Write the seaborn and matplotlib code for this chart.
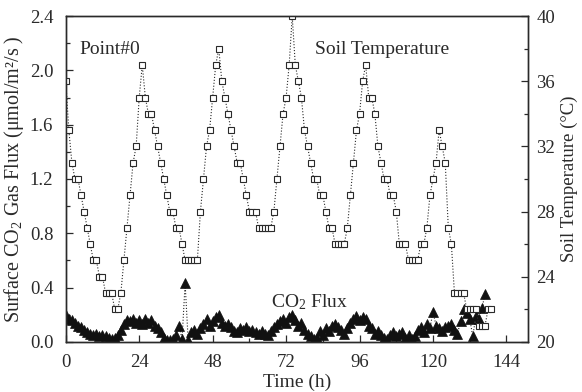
import numpy as np
import pandas as pd
import matplotlib
matplotlib.use("Agg")
import matplotlib.pyplot as plt
import seaborn as sns
from matplotlib.ticker import MultipleLocator

# ---- data ----
temp_hours = list(range(0, 140))
temp_values = [
    36, 33, 31, 30, 30, 29, 28, 27, 26, 25,
    25, 24, 24, 23, 23, 23, 22, 22, 23, 25,
    27, 29, 31, 32, 35, 37, 35, 34, 34, 33,
    32, 31, 30, 29, 28, 28, 27, 27, 26, 25,
    25, 25, 25, 25, 28, 30, 32, 33, 35, 37,
    38, 36, 35, 34, 33, 32, 31, 31, 30, 29,
    28, 28, 28, 27, 27, 27, 27, 27, 28, 30,
    32, 34, 35, 37, 40, 37, 36, 35, 33, 32,
    31, 30, 30, 29, 29, 28, 27, 27, 26, 26,
    26, 26, 27, 29, 31, 33, 34, 36, 37, 35,
    35, 34, 32, 31, 30, 30, 29, 29, 28, 26,
    26, 26, 25, 25, 25, 25, 26, 26, 27, 29,
    30, 31, 33, 32, 31, 27, 26, 23, 23, 23,
    23, 22, 22, 22, 22, 21, 21, 21, 22, 22,
]

flux_hours = list(range(0, 138))
flux_values = [
    0.20, 0.17, 0.16, 0.14, 0.12, 0.11, 0.09, 0.07, 0.06, 0.05,
    0.06, 0.04, 0.05, 0.04, 0.03, 0.02, 0.03, 0.05, 0.09, 0.13,
    0.16, 0.15, 0.17, 0.14, 0.16, 0.13, 0.17, 0.14, 0.16, 0.12,
    0.10, 0.07, 0.03, 0.01, 0.01, 0.02, 0.05, 0.12, 0.02, 0.43,
    0.01, 0.07, 0.09, 0.06, 0.10, 0.13, 0.17, 0.12, 0.15, 0.18,
    0.20, 0.14, 0.12, 0.13, 0.11, 0.08, 0.07, 0.10, 0.09, 0.11,
    0.08, 0.09, 0.07, 0.06, 0.08, 0.06, 0.05, 0.08, 0.11, 0.13,
    0.15, 0.17, 0.14, 0.18, 0.20, 0.16, 0.12, 0.14, 0.09, 0.06,
    0.04, 0.02, 0.03, 0.08, 0.05, 0.10, 0.08, 0.12, 0.13, 0.11,
    0.09, 0.06, 0.10, 0.14, 0.17, 0.19, 0.16, 0.18, 0.17, 0.12,
    0.10, 0.06, 0.08, 0.05, 0.03, 0.02, 0.05, 0.07, 0.04, 0.06,
    0.07, 0.03, 0.05, 0.02, 0.04, 0.09, 0.11, 0.07, 0.13, 0.10,
    0.22, 0.12, 0.10, 0.08, 0.11, 0.12, 0.13, 0.09, 0.06, 0.15,
    0.24, 0.21, 0.17, 0.04, 0.19, 0.17, 0.25, 0.35,
]

x_ticks = [0, 24, 48, 72, 96, 120, 144]
left_ticks = [0.0, 0.4, 0.8, 1.2, 1.6, 2.0, 2.4]
right_ticks = [20, 24, 28, 32, 36, 40]

temp_df = pd.DataFrame({"Time": temp_hours, "Temp": temp_values})
flux_df = pd.DataFrame({"Time": flux_hours, "Flux": flux_values})

# ---- style ----
sns.set_theme(style="ticks")
plt.rcParams["font.family"] = ["Liberation Serif", "DejaVu Serif"]
plt.rcParams["mathtext.fontset"] = "custom"
plt.rcParams["mathtext.rm"] = "Liberation Serif"
plt.rcParams["mathtext.it"] = "Liberation Serif:italic"
plt.rcParams["xtick.direction"] = "in"
plt.rcParams["ytick.direction"] = "in"

fig = plt.figure(figsize=(5.82, 3.92), dpi=100)
ax = fig.add_axes([0.113, 0.128, 0.794, 0.831])
ax2 = ax.twinx()

ink = "#2a2a2a"

sns.lineplot(data=flux_df, x="Time", y="Flux", ax=ax, color=ink,
             linestyle=":", linewidth=0.8, marker="^", markersize=6.5,
             markerfacecolor="#111111", markeredgecolor="#111111", markeredgewidth=0.5,
             estimator=None, sort=False)

sns.lineplot(data=temp_df, x="Time", y="Temp", ax=ax2, color=ink,
             linestyle=":", linewidth=0.8, marker="s", markersize=4.2,
             markerfacecolor="white", markeredgecolor=ink, markeredgewidth=0.8,
             estimator=None, sort=False)

ax.set_xlim(0, 151)
ax.set_ylim(0, 2.4)
ax2.set_ylim(20, 40)

ax.set_xticks(x_ticks)
ax.set_xticklabels([str(t) for t in x_ticks])
ax.xaxis.set_minor_locator(MultipleLocator(12))
ax.set_yticks(left_ticks)
ax.set_yticklabels([f"{t:.1f}" for t in left_ticks])
ax.yaxis.set_minor_locator(MultipleLocator(0.2))
ax2.set_yticks(right_ticks)
ax2.set_yticklabels([str(t) for t in right_ticks])
ax2.yaxis.set_minor_locator(MultipleLocator(2))

for a in (ax, ax2):
    a.tick_params(which="major", length=5, width=0.9, colors=ink, labelsize=13.5)
    a.tick_params(which="minor", length=3, width=0.9, colors=ink)
    for s in a.spines.values():
        s.set_linewidth(1.0)
        s.set_color(ink)
ax.tick_params(axis="x", pad=9)
ax.tick_params(axis="y", pad=9)
ax2.tick_params(axis="y", pad=6)

ax.set_xlabel("Time (h)", fontsize=14, color=ink, labelpad=2)
ax.set_ylabel("Surface CO$_2$ Gas Flux (μmol/m²/s )", fontsize=14.5, color=ink, labelpad=3)
ax2.set_ylabel("Soil Temperature (°C)", fontsize=13.5, color=ink, labelpad=4)

ax.text(0.03, 0.885, "Point#0", transform=ax.transAxes, fontsize=14, color=ink)
ax.text(0.54, 0.885, "Soil Temperature", transform=ax.transAxes, fontsize=14, color=ink)
ax.text(0.445, 0.105, "CO$_2$ Flux", transform=ax.transAxes, fontsize=14, color=ink)

fig.savefig("out.png", dpi=100)
